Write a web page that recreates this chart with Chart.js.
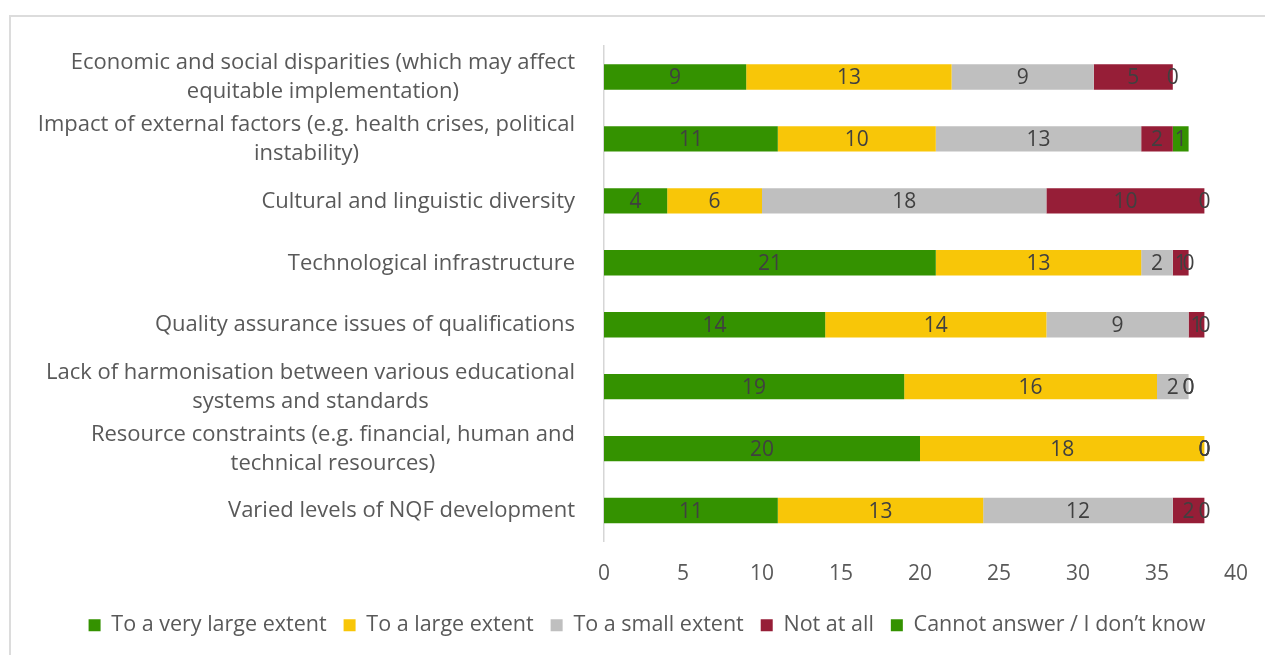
<!DOCTYPE html>
<html>
<head>
<meta charset="utf-8">
<script src="https://cdn.jsdelivr.net/npm/chart.js@4.4.1/dist/chart.umd.min.js"></script>
<style>
  html, body { margin: 0; padding: 0; background: #ffffff; overflow: hidden; width: 1265px; height: 655px; }
  #frame { position: absolute; left: 9px; top: 15px; width: 1300px; height: 700px; border: 2px solid #dcdcdc; box-sizing: border-box; }
  #chart { position: absolute; left: 11px; top: 17px; }
</style>
</head>
<body>
<div id="frame"></div>
<canvas id="chart" width="1272" height="640"></canvas>
<script>
// Survey: extent to which each challenge affects implementation
const categories = [
  ['Economic and social disparities (which may affect', 'equitable implementation)'],
  ['Impact of external factors (e.g. health crises, political', 'instability)'],
  ['Cultural and linguistic diversity'],
  ['Technological infrastructure'],
  ['Quality assurance issues of qualifications'],
  ['Lack of harmonisation between various educational', 'systems and standards'],
  ['Resource constraints (e.g. financial, human and', 'technical resources)'],
  ['Varied levels of NQF development']
];

const seriesNames = ['To a very large extent', 'To a large extent', 'To a small extent', 'Not at all', 'Cannot answer / I don\u2019t know'];

const veryLarge    = [9, 11, 4, 21, 14, 19, 20, 11];
const large        = [13, 10, 6, 13, 14, 16, 18, 13];
const small        = [9, 13, 18, 2, 9, 2, 0, 12];
const notAtAll     = [5, 2, 10, 1, 1, 0, 0, 2];
const cannotAnswer = [0, 1, 0, 0, 0, 0, 0, 0];

const xTicks = [0, 5, 10, 15, 20, 25, 30, 35, 40];

const seriesColors = ['#349200', '#F8C608', '#BFBFBF', '#961E37', '#349200'];
const FONT = "'Open Sans', 'Liberation Sans', sans-serif";

// Value labels centred on every segment (zero segments sit at the stack end)
const segmentLabels = {
  id: 'segmentLabels',
  afterDatasetsDraw(chart) {
    const ctx = chart.ctx;
    ctx.save();
    ctx.font = '21px ' + FONT;
    ctx.fillStyle = '#404040';
    ctx.textAlign = 'center';
    ctx.textBaseline = 'middle';
    chart.data.datasets.forEach((ds, di) => {
      const meta = chart.getDatasetMeta(di);
      meta.data.forEach((el, i) => {
        const x = (el.x + el.base) / 2;
        ctx.fillText(String(ds.data[i]), x, el.y + 1);
      });
    });
    ctx.restore();
  }
};

// Category names: block right-aligned to the axis, lines centred within the block
const categoryLabels = {
  id: 'categoryLabels',
  afterDraw(chart) {
    const ctx = chart.ctx;
    const yScale = chart.scales.y;
    const rightEdge = chart.chartArea.left - 29;
    const lineH = 29;
    ctx.save();
    ctx.font = '22px ' + FONT;
    ctx.fillStyle = '#595959';
    ctx.textAlign = 'center';
    ctx.textBaseline = 'middle';
    categories.forEach((lines, i) => {
      const yc = yScale.getPixelForValue(i) + 0.5;
      const blockW = Math.max(...lines.map(l => ctx.measureText(l).width));
      const cx = rightEdge - blockW / 2;
      const y0 = yc - (lines.length - 1) * lineH / 2;
      lines.forEach((l, k) => ctx.fillText(l, cx, y0 + k * lineH));
    });
    ctx.restore();
  }
};

const datasets = [veryLarge, large, small, notAtAll, cannotAnswer].map((vals, k) => ({
  label: seriesNames[k],
  data: vals,
  backgroundColor: seriesColors[k],
  borderWidth: 0,
  categoryPercentage: 0.82,
  barPercentage: 0.5
}));

new Chart(document.getElementById('chart'), {
  type: 'bar',
  data: { labels: categories.map(l => l.join(' ')), datasets },
  options: {
    indexAxis: 'y',
    responsive: false,
    animation: false,
    layout: { padding: { top: 29, right: 47, bottom: 11, left: 47 } },
    scales: {
      x: {
        stacked: true,
        min: 0,
        max: 40,
        afterBuildTicks(scale) { scale.ticks = xTicks.map(v => ({ value: v })); },
        grid: { display: false, drawTicks: false },
        border: { display: false },
        ticks: { color: '#595959', font: { family: FONT, size: 21 }, padding: 20 },
        afterFit(scale) { scale.height = 56; }
      },
      y: {
        stacked: true,
        grid: { display: false, drawTicks: false },
        border: { display: true, color: '#d6d6d6', width: 1.5 },
        ticks: { display: false },
        afterFit(scale) { scale.width = 546; }
      }
    },
    plugins: {
      legend: {
        position: 'bottom',
        labels: {
          color: '#595959',
          font: { family: FONT, size: 21.5 },
          boxWidth: 12,
          boxHeight: 12,
          padding: 17
        }
      },
      tooltip: { enabled: false }
    }
  },
  plugins: [segmentLabels, categoryLabels]
});
</script>
</body>
</html>
